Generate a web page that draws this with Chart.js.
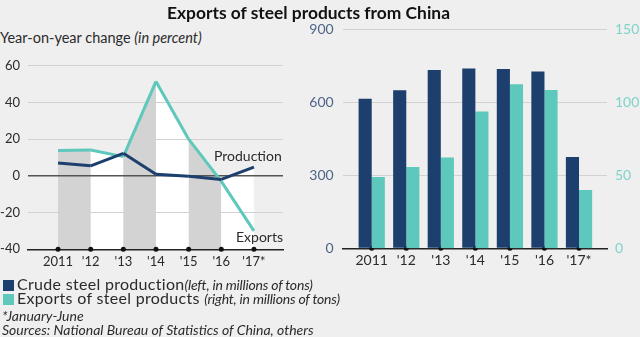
<!DOCTYPE html>
<html>
<head>
<meta charset="utf-8">
<script src="https://cdn.jsdelivr.net/npm/chart.js@4.4.1/dist/chart.umd.min.js"></script>
<style>
  html, body { margin: 0; padding: 0; }
  body {
    width: 640px; height: 337px; position: relative; overflow: hidden;
    background: #efefef; font-family: Lato, "Open Sans", sans-serif; color: #2b2b2b;
  }
  .txt { position: absolute; white-space: nowrap; line-height: 18px; }
  .it { font-style: italic; }
  #title { left: 167px; top: 4px; font-size: 17.4px; font-weight: 700; color: #111; }
  #subtitle { left: 0; top: 29px; font-size: 14.5px; }
  #lblProd { left: 214px; top: 147px; font-size: 14px; }
  #lblExp { left: 236px; top: 228px; font-size: 14px; }
  .legend { left: 3px; font-size: 16px; letter-spacing: 0.3px; }
  .legend .it { font-size: 14px; letter-spacing: -0.2px; }
  .legend i { display: inline-block; width: 11px; height: 11px; margin-right: 3px; vertical-align: -1px; }
  #leg1 { top: 275px; }
  #leg2 { top: 289px; }
  #note { left: 2px; top: 307px; font-size: 14px; }
  #src { left: 2px; top: 321px; font-size: 14px; }
  #wrapLine { position: absolute; left: 0; top: 50px; width: 295px; height: 225px; }
  #wrapBar { position: absolute; left: 300px; top: 0; width: 340px; height: 275px; }
</style>
</head>
<body>
<div id="wrapLine"><canvas id="lineChart"></canvas></div>
<div id="wrapBar"><canvas id="barChart"></canvas></div>

<div class="txt" id="title">Exports of steel products from China</div>
<div class="txt" id="subtitle">Year-on-year change <span class="it">(in percent)</span></div>
<div class="txt" id="lblProd">Production</div>
<div class="txt" id="lblExp">Exports</div>
<div class="txt legend" id="leg1"><i style="background:#1c3f6e"></i>Crude steel production<span class="it">(left, in millions of tons)</span></div>
<div class="txt legend" id="leg2"><i style="background:#5ec8bc"></i>Exports of steel products <span class="it">(right, in millions of tons)</span></div>
<div class="txt it" id="note">*January-June</div>
<div class="txt it" id="src">Sources: National Bureau of Statistics of China, others</div>

<script>
// data
const years = [2011, 2012, 2013, 2014, 2015, 2016, 2017];
const yearLabels = ['2011', "'12", "'13", "'14", "'15", "'16", "'17*"];

// year-on-year change, percent
const productionChange = [7.0, 5.5, 12.3, 0.9, -0.2, -1.9, 4.8];
const exportsChange = [13.9, 14.1, 10.5, 51.5, 20.0, -3.0, -30.0];
const changeTicks = [-40, -20, 0, 20, 40, 60];

// millions of tons
const crudeSteel = [615, 650, 733, 740, 738, 727, 376];
const steelExports = [48.9, 55.7, 62.3, 93.8, 112.4, 108.5, 40.0];
const steelTicks = [0, 300, 600, 900];
const exportTicks = [0, 50, 100, 150];

// colours
const NAVY = '#1c3f6e';
const TEAL = '#5ec8bc';
const BAND_GREY = '#d3d3d3';
const GRID = '#d2d2d2';
const ZERO = '#555555';
const FONT = 'Lato, "Open Sans", sans-serif';

const toPoints = (vals) => years.map((yr, i) => ({ x: yr, y: vals[i] }));
const yearTick = (v) => {
    const i = years.indexOf(v);
    return i >= 0 ? yearLabels[i] : '';
};
const setYearTicks = (scale) => { scale.ticks = years.map(v => ({ value: v })); };
const bandColor = (ctx) => (ctx.p0DataIndex % 2 === 0 ? BAND_GREY : '#ffffff');

// Left panel: year-on-year change lines
function buildLineChart() {
    const ctx = document.getElementById('lineChart');
    const yMin = changeTicks[0];

    return new Chart(ctx, {
        type: 'line',
        data: {
            datasets: [
                {
                    label: 'Production',
                    data: toPoints(productionChange),
                    borderColor: NAVY,
                    borderWidth: 3,
                    pointRadius: 0,
                    fill: 'start',
                    segment: { backgroundColor: bandColor },
                    order: 1
                },
                {
                    label: 'Exports',
                    data: toPoints(exportsChange),
                    borderColor: TEAL,
                    borderWidth: 3,
                    pointRadius: 0,
                    fill: 'start',
                    segment: { backgroundColor: bandColor },
                    order: 2
                },
                {
                    // dots on the axis at each year
                    label: 'ticks',
                    data: years.map(yr => ({ x: yr, y: yMin })),
                    showLine: false,
                    pointRadius: 2.5,
                    pointBackgroundColor: '#111',
                    pointBorderWidth: 0,
                    clip: false,
                    order: 0
                }
            ]
        },
        options: {
            responsive: true,
            maintainAspectRatio: false,
            animation: false,
            layout: { padding: { top: 12, right: 12, left: 0, bottom: 0 } },
            plugins: {
                legend: { display: false },
                tooltip: { enabled: false },
                filler: { drawTime: 'beforeDraw' }
            },
            scales: {
                x: {
                    type: 'linear',
                    min: 2010.08,
                    max: 2017.89,
                    afterBuildTicks: setYearTicks,
                    afterFit: (s) => { s.height = 25.7; },
                    grid: { display: false, drawTicks: false },
                    border: { display: true, color: '#222', width: 1.5 },
                    ticks: {
                        callback: yearTick,
                        autoSkip: false,
                        maxRotation: 0,
                        padding: 5,
                        color: '#2b2b2b',
                        font: { family: FONT, size: 13 }
                    }
                },
                y: {
                    min: changeTicks[0],
                    max: changeTicks[changeTicks.length - 1],
                    afterBuildTicks: (s) => { s.ticks = changeTicks.map(v => ({ value: v })); },
                    afterFit: (s) => { s.width = 28; },
                    grid: {
                        drawTicks: false,
                        color: (c) => (c.tick.value === 0 ? ZERO : GRID),
                        lineWidth: (c) => (c.tick.value === 0 ? 1.5 : 1)
                    },
                    border: { display: false },
                    ticks: {
                        padding: 8,
                        color: '#2b2b2b',
                        font: { family: FONT, size: 13 }
                    }
                }
            }
        }
    });
}

// Right panel: production and exports bars on two axes
function buildBarChart() {
    const ctx = document.getElementById('barChart');

    return new Chart(ctx, {
        type: 'bar',
        data: {
            datasets: [
                {
                    label: 'Crude steel production',
                    data: toPoints(crudeSteel),
                    backgroundColor: NAVY,
                    yAxisID: 'y',
                    categoryPercentage: 0.76,
                    barPercentage: 1.0
                },
                {
                    label: 'Exports of steel products',
                    data: toPoints(steelExports),
                    backgroundColor: TEAL,
                    yAxisID: 'y1',
                    categoryPercentage: 0.76,
                    barPercentage: 1.0
                },
                {
                    type: 'scatter',
                    label: 'ticks',
                    data: years.map(yr => ({ x: yr, y: steelTicks[0] })),
                    pointRadius: 2.5,
                    pointBackgroundColor: '#111',
                    pointBorderWidth: 0,
                    yAxisID: 'y',
                    clip: false
                }
            ]
        },
        options: {
            responsive: true,
            maintainAspectRatio: false,
            animation: false,
            layout: { padding: { top: 29.5, right: 0, left: 0, bottom: 0 } },
            plugins: {
                legend: { display: false },
                tooltip: { enabled: false }
            },
            scales: {
                x: {
                    type: 'linear',
                    offset: false,
                    min: 2010.16,
                    max: 2017.81,
                    afterBuildTicks: setYearTicks,
                    afterFit: (s) => { s.height = 26.7; },
                    grid: { display: false, drawTicks: false },
                    border: { display: true, color: '#222', width: 1.5 },
                    ticks: {
                        callback: yearTick,
                        autoSkip: false,
                        maxRotation: 0,
                        padding: 4,
                        color: '#2b2b2b',
                        font: { family: FONT, size: 14 }
                    }
                },
                y: {
                    position: 'left',
                    min: steelTicks[0],
                    max: steelTicks[steelTicks.length - 1],
                    afterBuildTicks: (s) => { s.ticks = steelTicks.map(v => ({ value: v })); },
                    afterFit: (s) => { s.width = 42.7; },
                    grid: {
                        drawTicks: false,
                        color: (c) => (c.tick.value === 0 ? 'rgba(0,0,0,0)' : GRID)
                    },
                    border: { display: false },
                    ticks: {
                        padding: 9,
                        color: '#4d6488',
                        font: { family: FONT, size: 14 }
                    }
                },
                y1: {
                    position: 'right',
                    min: exportTicks[0],
                    max: exportTicks[exportTicks.length - 1],
                    afterBuildTicks: (s) => { s.ticks = exportTicks.map(v => ({ value: v })); },
                    afterFit: (s) => { s.width = 33; },
                    grid: { display: false, drawTicks: false },
                    border: { display: false },
                    ticks: {
                        padding: 8,
                        color: '#7fd3ca',
                        font: { family: FONT, size: 14 }
                    }
                }
            }
        }
    });
}

buildLineChart();
buildBarChart();
</script>
</body>
</html>
